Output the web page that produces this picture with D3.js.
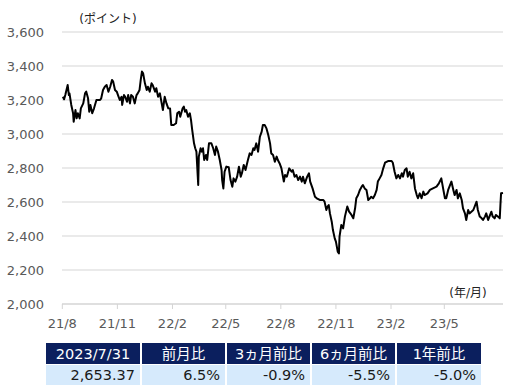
<!DOCTYPE html>
<html><head><meta charset="utf-8">
<script src="https://cdn.jsdelivr.net/npm/d3@7/dist/d3.min.js"></script>
<style>html,body{margin:0;padding:0;background:#fff;overflow:hidden}</style>
</head><body><div id="chart"></div>
<script>
const dates = [
"2021-08-02","2021-08-04","2021-08-06","2021-08-10","2021-08-12","2021-08-13","2021-08-16","2021-08-19","2021-08-20","2021-08-23",
"2021-08-25","2021-08-27","2021-08-30","2021-09-01","2021-09-05","2021-09-08","2021-09-10","2021-09-13","2021-09-15","2021-09-17",
"2021-09-20","2021-09-23","2021-09-27","2021-10-03","2021-10-05","2021-10-08","2021-10-11","2021-10-14","2021-10-17","2021-10-20",
"2021-10-23","2021-10-25","2021-10-28","2021-10-31","2021-11-02","2021-11-05","2021-11-08","2021-11-09","2021-11-12","2021-11-14",
"2021-11-17","2021-11-19","2021-11-22","2021-11-24","2021-11-27","2021-11-30","2021-12-03","2021-12-05","2021-12-08","2021-12-10",
"2021-12-12","2021-12-14","2021-12-17","2021-12-20","2021-12-22","2021-12-25","2021-12-28","2021-12-30","2022-01-03","2022-01-05",
"2022-01-08","2022-01-11","2022-01-14","2022-01-16","2022-01-19","2022-01-22","2022-01-25","2022-01-28","2022-01-30","2022-02-03",
"2022-02-07","2022-02-09","2022-02-12","2022-02-14","2022-02-18","2022-02-20","2022-02-22","2022-02-24","2022-02-27","2022-03-02",
"2022-03-04","2022-03-06","2022-03-09","2022-03-11","2022-03-13","2022-03-16","2022-03-17","2022-03-20","2022-03-22","2022-03-24",
"2022-03-26","2022-03-29","2022-03-31","2022-04-03","2022-04-07","2022-04-10","2022-04-13","2022-04-15","2022-04-18","2022-04-21",
"2022-04-24","2022-04-25","2022-04-27","2022-04-29","2022-05-02","2022-05-06","2022-05-09","2022-05-12","2022-05-14","2022-05-17",
"2022-05-20","2022-05-23","2022-05-26","2022-05-28","2022-05-31","2022-06-03","2022-06-07","2022-06-10","2022-06-13","2022-06-16",
"2022-06-18","2022-06-21","2022-06-24","2022-06-27","2022-06-30","2022-07-02","2022-07-05","2022-07-08","2022-07-11","2022-07-14",
"2022-07-16","2022-07-19","2022-07-22","2022-07-25","2022-07-27","2022-07-30","2022-08-02","2022-08-06","2022-08-08","2022-08-11",
"2022-08-15","2022-08-19","2022-08-21","2022-08-24","2022-08-27","2022-08-30","2022-09-02","2022-09-05","2022-09-07","2022-09-10",
"2022-09-14","2022-09-17","2022-09-19","2022-09-23","2022-09-27","2022-09-30","2022-10-05","2022-10-11","2022-10-13","2022-10-16",
"2022-10-18","2022-10-20","2022-10-22","2022-10-25","2022-10-27","2022-10-30","2022-11-01","2022-11-04","2022-11-06","2022-11-07",
"2022-11-10","2022-11-13","2022-11-16","2022-11-20","2022-11-23","2022-11-27","2022-11-30","2022-12-03","2022-12-05","2022-12-08",
"2022-12-11","2022-12-14","2022-12-16","2022-12-19","2022-12-22","2022-12-25","2022-12-28","2022-12-30","2023-01-02","2023-01-05",
"2023-01-08","2023-01-10","2023-01-13","2023-01-16","2023-01-19","2023-01-22","2023-01-27","2023-02-02","2023-02-04","2023-02-07",
"2023-02-10","2023-02-13","2023-02-16","2023-02-19","2023-02-21","2023-02-24","2023-02-27","2023-03-01","2023-03-04","2023-03-07",
"2023-03-10","2023-03-13","2023-03-16","2023-03-18","2023-03-21","2023-03-24","2023-03-27","2023-03-29","2023-04-03","2023-04-07",
"2023-04-12","2023-04-18","2023-04-22","2023-04-26","2023-04-29","2023-05-02","2023-05-04","2023-05-07","2023-05-12","2023-05-15",
"2023-05-17","2023-05-20","2023-05-22","2023-05-25","2023-05-28","2023-05-30","2023-06-02","2023-06-04","2023-06-07","2023-06-09",
"2023-06-15","2023-06-20","2023-06-22","2023-06-25","2023-06-28","2023-06-30","2023-07-03","2023-07-05","2023-07-08","2023-07-10",
"2023-07-13","2023-07-15","2023-07-18","2023-07-20","2023-07-23","2023-07-26","2023-07-27","2023-07-28","2023-07-31"
];
const values = [
3219,3204,3229,3288,3229,3239,3171,3122,3072,3141,
3092,3122,3092,3151,3180,3239,3249,3210,3131,3170,
3122,3151,3200,3200,3210,3259,3278,3288,3249,3278,
3318,3308,3259,3249,3229,3200,3219,3171,3229,3219,
3190,3229,3180,3229,3219,3180,3229,3239,3259,3318,
3367,3357,3298,3259,3278,3249,3298,3288,3249,3269,
3219,3239,3180,3141,3219,3180,3151,3150,3053,3053,
3063,3122,3131,3102,3151,3161,3131,3141,3102,3122,
3082,3023,2945,2916,2896,2700,2867,2916,2896,2916,
2847,2877,2847,2945,2945,2916,2877,2926,2896,2847,
2788,2729,2680,2778,2808,2804,2729,2690,2739,2720,
2749,2808,2749,2769,2818,2788,2847,2886,2877,2916,
2906,2945,2896,2984,3014,3053,3053,3033,2994,2945,
2886,2877,2837,2867,2847,2827,2798,2720,2759,2749,
2798,2778,2788,2749,2759,2729,2749,2720,2749,2710,
2749,2769,2720,2680,2631,2622,2612,2612,2602,2553,
2573,2582,2533,2484,2435,2386,2367,2308,2298,2396,
2465,2445,2514,2573,2543,2524,2504,2563,2622,2641,
2671,2690,2700,2680,2671,2612,2622,2631,2622,2641,
2671,2720,2739,2759,2798,2831,2841,2841,2831,2778,
2739,2759,2739,2769,2749,2788,2798,2749,2778,2739,
2769,2680,2641,2622,2651,2622,2661,2641,2651,2671,
2680,2690,2710,2739,2680,2622,2622,2671,2720,2671,
2641,2671,2622,2651,2612,2563,2533,2494,2553,2533,
2553,2602,2553,2514,2504,2494,2514,2533,2494,2514,
2543,2514,2504,2524,2514,2504,2582,2651,2653.37
];
const yTicks = [2000,2200,2400,2600,2800,3000,3200,3400,3600];
const xTickDates = ["2021-08-01","2021-11-01","2022-02-01","2022-05-01","2022-08-01","2022-11-01","2023-02-01","2023-05-01"];
const xTickLabels = ["21/8","21/11","22/2","22/5","22/8","22/11","23/2","23/5"];
const tableHeaders = ["2023/7/31","前月比","3ヵ月前比","6ヵ月前比","1年前比"];
const tableValues = ["2,653.37","6.5%","-0.9%","-5.5%","-5.0%"];

const W = 529, H = 386;
const parse = d3.timeParse("%Y-%m-%d");
const data = dates.map((d,i)=>({date:parse(d), value:values[i]}));
const FONT = "'DejaVu Sans','Noto Sans CJK JP',sans-serif";

const svg = d3.select("#chart").append("svg").attr("width",W).attr("height",H)
  .style("display","block").style("font-family",FONT);

const x = d3.scaleTime()
  .domain([parse("2021-08-01"), parse("2023-05-01"), parse("2023-07-31")])
  .range([62.3, 444.3, 503]);
const y = d3.scaleLinear().domain([2000,3600]).range([304,32]);
const plotL = 62, plotR = 503;

// gridlines
svg.append("g").selectAll("line").data(yTicks).join("line")
  .attr("x1",plotL).attr("x2",plotR)
  .attr("y1",d=>y(d)).attr("y2",d=>y(d))
  .attr("stroke",d=>d===2000?"#d4d4d4":"#e3e3e3").attr("stroke-width",1.5);

// y labels
svg.append("g").selectAll("text").data(yTicks).join("text")
  .attr("x",44).attr("y",d=>y(d)).attr("dy","0.36em")
  .attr("text-anchor","end").attr("fill","#595959").attr("font-size",13)
  .text(d=>d3.format(",")(d));

// x axis ticks & labels
const xt = xTickDates.map(parse);
svg.append("g").selectAll("line").data(xt).join("line")
  .attr("x1",d=>x(d)).attr("x2",d=>x(d)).attr("y1",304).attr("y2",309)
  .attr("stroke","#d4d4d4").attr("stroke-width",1);
svg.append("g").selectAll("text").data(xt).join("text")
  .attr("x",d=>x(d)).attr("y",323).attr("dy","0.36em")
  .attr("text-anchor","middle").attr("fill","#595959").attr("font-size",13)
  .text((d,i)=>xTickLabels[i]);

// unit labels
svg.append("text").attr("x",108).attr("y",19).attr("dy","0.36em")
  .attr("text-anchor","middle").attr("font-size",12).attr("fill","#222").text("(ポイント)");
svg.append("text").attr("x",468).attr("y",293).attr("dy","0.36em")
  .attr("text-anchor","middle").attr("font-size",12).attr("fill","#222").text("(年/月)");

// line
const line = d3.line().x(d=>x(d.date)).y(d=>y(d.value));
svg.append("path").datum(data).attr("d",line)
  .attr("fill","none").attr("stroke","#000").attr("stroke-width",2)
  .attr("stroke-linejoin","round");

// table
const colX = [46,142,227,312,397];
const colW = [94,83,83,83,84];
const tg = svg.append("g");
tg.selectAll("rect.h").data(tableHeaders).join("rect").attr("class","h")
  .attr("x",(d,i)=>colX[i]).attr("y",343).attr("width",(d,i)=>colW[i]).attr("height",21)
  .attr("fill","#0b1f5e");
tg.selectAll("text.h").data(tableHeaders).join("text").attr("class","h")
  .attr("x",(d,i)=>colX[i]+colW[i]/2).attr("y",353.5).attr("dy","0.36em")
  .attr("text-anchor","middle").attr("fill","#fff").attr("font-size",14.5)
  .text(d=>d);
tg.selectAll("rect.v").data(tableValues).join("rect").attr("class","v")
  .attr("x",(d,i)=>colX[i]).attr("y",365).attr("width",(d,i)=>colW[i]).attr("height",20)
  .attr("fill","#d6eafc");
tg.selectAll("text.v").data(tableValues).join("text").attr("class","v")
  .attr("x",(d,i)=>colX[i]+colW[i]-5).attr("y",375).attr("dy","0.36em")
  .attr("text-anchor","end").attr("fill","#1a1a1a").attr("font-size",14.5)
  .text(d=>d);
</script>
</body></html>
